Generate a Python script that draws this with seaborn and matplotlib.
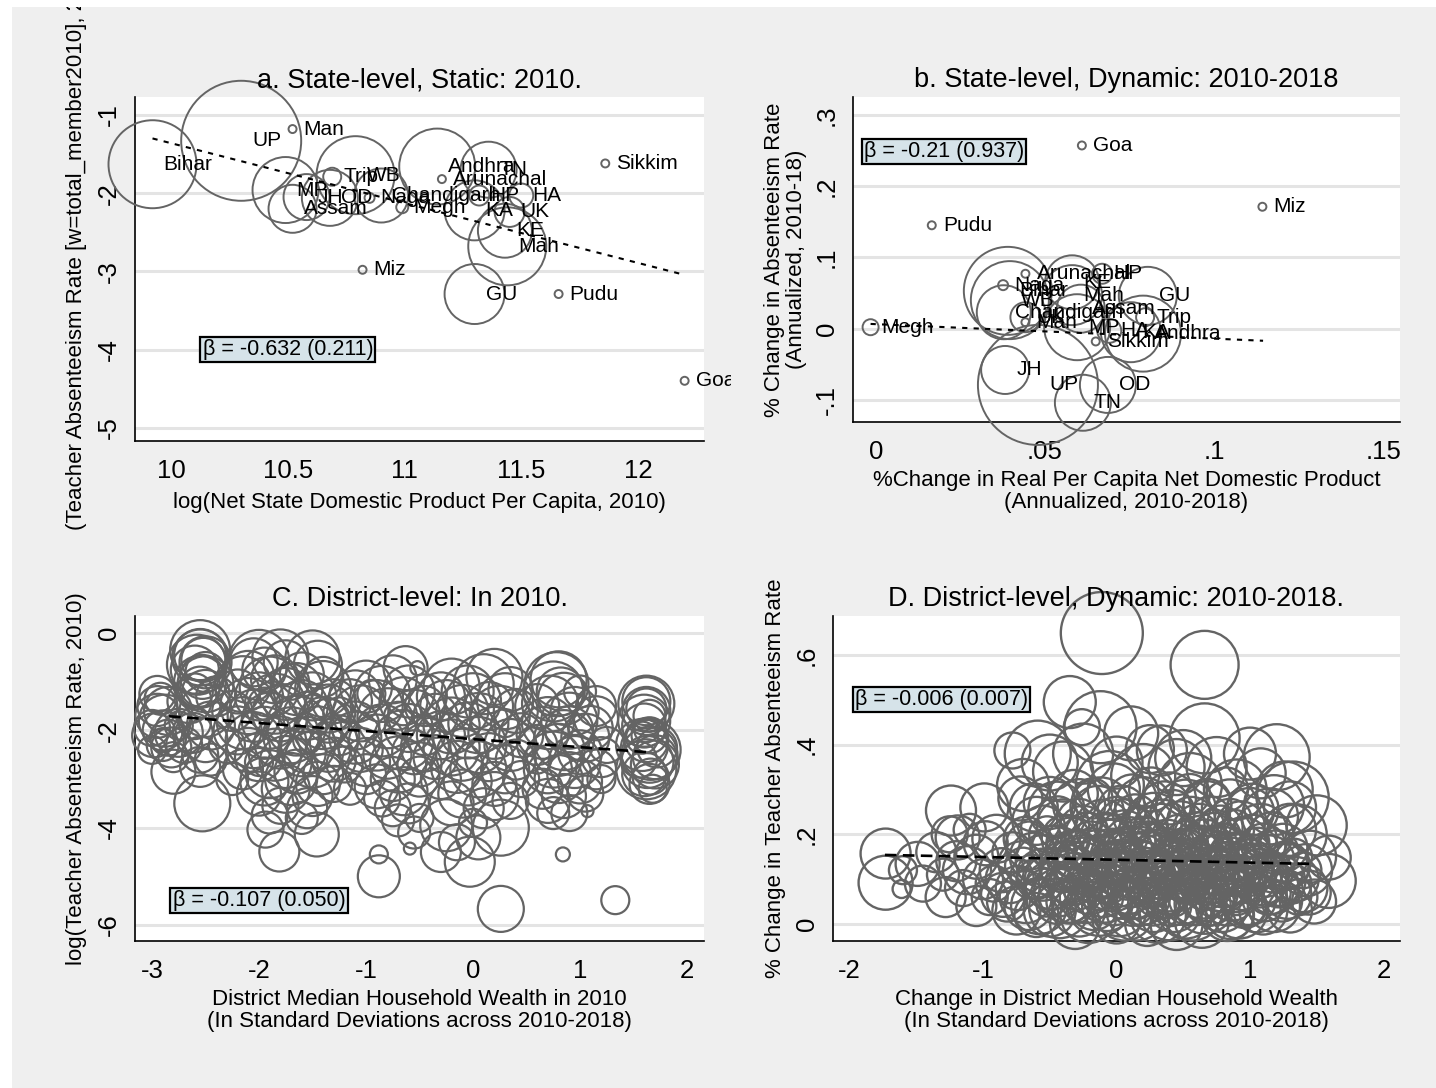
import numpy as np
import pandas as pd
import matplotlib
matplotlib.use("Agg")
import matplotlib.pyplot as plt
import seaborn as sns
from matplotlib.patches import Rectangle
from matplotlib.transforms import Bbox, TransformedBbox

# ---------------- data: panel a (state-level, static 2010) ----------------
a_state = ["Bihar", "UP", "Man", "MP", "Assam", "JH", "OD", "Trip", "WB", "Naga",
           "Chandigarh", "Megh", "Andhra", "Arunachal", "TN", "HP", "KA", "HA",
           "UK", "KE", "Mah", "GU", "Miz", "Pudu", "Sikkim", "Goa"]
a_x = [9.92, 10.30, 10.52, 10.49, 10.52, 10.58, 10.68, 10.69, 10.79, 10.85,
       10.90, 10.99, 11.14, 11.16, 11.36, 11.32, 11.30, 11.50,
       11.45, 11.43, 11.44, 11.30, 10.82, 11.66, 11.86, 12.20]
a_y = [-1.63, -1.33, -1.18, -1.96, -2.20, -2.05, -2.06, -1.79, -1.77, -2.06,
       -2.03, -2.18, -1.66, -1.82, -1.70, -2.03, -2.22, -2.03,
       -2.24, -2.48, -2.68, -3.29, -2.98, -3.29, -1.62, -4.40]
a_size = [44, 60, 4, 33, 24, 23, 28, 9, 39, 5,
          27, 6, 38, 4, 28, 10, 30, 12,
          15, 27, 39, 30, 4, 4, 4, 4]
a_fit_x = [9.92, 12.18]
a_fit_y = [-1.30, -3.03]
a_beta = "β = -0.632 (0.211)"
a_beta_pos = (10.50, -4.0)

# ---------------- data: panel b (state-level, dynamic) ----------------
b_state = ["Goa", "Miz", "Pudu", "Megh", "Arunachal", "Naga", "Bihar", "WB",
           "Chandigarh", "UK", "Man", "JH", "UP", "TN", "OD", "GU", "Mah", "KE",
           "HP", "Assam", "Trip", "MP", "HA", "KA", "Andhra", "Sikkim"]
b_x = [0.0609, 0.1143, 0.0165, -0.0016, 0.0442, 0.0376, 0.0390, 0.0396,
       0.0378, 0.0442, 0.0442, 0.0382, 0.0479, 0.0612, 0.0686, 0.0804, 0.0580, 0.0580,
       0.0669, 0.0606, 0.0796, 0.0595, 0.0690, 0.0754, 0.0790, 0.0650]
b_y = [0.257, 0.171, 0.145, 0.002, 0.077, 0.061, 0.053, 0.040,
       0.023, 0.016, 0.009, -0.058, -0.079, -0.104, -0.079, 0.046, 0.047, 0.065,
       0.077, 0.028, 0.016, 0.002, -0.003, -0.005, -0.007, -0.018]
b_size = [4, 4, 4, 8, 4, 5, 44, 39,
          27, 15, 4, 24, 60, 28, 28, 29, 30, 27,
          10, 24, 9, 33, 12, 30, 38, 4]
b_fit_x = [-0.0016, 0.1145]
b_fit_y = [0.0066, -0.0170]
b_beta = "β = -0.21 (0.937)"
b_beta_pos = (0.0201, 0.249)

# ---------------- data: panel c (district-level, 2010) ----------------
c_x = [-2.55, -2.55, -2.50, -2.60, -2.53, -2.55, -2.50, -2.95, -2.85, -2.95,
       -3.00, -2.90, -2.85, -2.90, -3.00, -2.80, -2.90, -2.75, -2.65, -2.50,
       -2.45, -2.50, -2.55, -2.60, -2.80, -2.53, -2.55, -2.70, -2.40, -2.95,
       -2.05, -1.80, -1.50, -1.95, -2.10, -1.85, -1.60, -1.40, -2.20, -2.00,
       -1.75, -1.50, -1.30, -2.25, -2.05, -1.80, -1.55, -1.35, -2.20, -1.95,
       -1.70, -1.45, -1.25, -2.10, -1.85, -1.60, -1.35, -2.15, -1.90, -1.65,
       -1.40, -2.00, -1.75, -1.50, -1.30, -1.80, -1.94, -1.81, -1.46, -1.60,
       -2.25, -1.20, -2.30, -1.70, -1.95, -1.55, -1.25, -2.00,
       -1.00, -0.75, -0.63, -0.52, -1.15, -0.90, -0.65, -0.45, -1.10, -0.85,
       -0.60, -0.45, -1.05, -0.80, -0.55, -1.00, -0.75, -0.50, -0.85, -0.60,
       -0.70, -0.88, -0.88, -0.59, -0.50, -1.15, -0.95, -0.70,
       -0.30, -0.05, 0.20, 0.35, -0.35, -0.10, 0.15, 0.40, -0.30, -0.05,
       0.20, 0.45, -0.35, -0.10, 0.15, 0.40, -0.30, -0.05, 0.20, 0.45,
       -0.20, 0.10, 0.35, -0.25, 0.26, -0.03, 0.26, 0.00, -0.15, 0.30,
       0.80, 0.75, 0.85, 0.60, 0.95, 1.15, 0.70, 0.90, 1.10, 0.60,
       0.80, 1.00, 1.25, 0.70, 0.90, 1.15, 0.65, 0.85, 1.05, 0.75,
       1.07, 0.84, 1.33, 1.20, 0.60, 1.00,
       1.62, 1.62, 1.65, 1.60, 1.65, 1.58, 1.65, 1.70, 1.60, 1.65,
       1.62, 1.55, 1.72, 1.68,
       -2.55, -2.52, -2.58, -2.50, -2.55, -2.60, -2.88, -2.98, -2.82, -2.92,
       -2.75, -2.62, -2.45, -2.50,
       -2.00, -1.75, -1.45, -2.15, -1.90, -1.65, -1.40, -2.10, -1.85, -1.60,
       -1.35, -2.15, -1.90, -1.65, -1.40, -2.05, -1.80, -1.55, -1.30, -2.00,
       -1.75, -1.50, -1.30, -1.95, -1.70, -1.45, -1.55, -1.90,
       -1.10, -0.85, -0.60, -0.45, -1.05, -0.80, -0.55, -1.10, -0.90, -0.65,
       -0.45, -1.00, -0.70, -0.50, -0.90, -0.65, -0.75, -0.55,
       -0.20, 0.10, 0.30, -0.25, 0.00, 0.25, -0.20, 0.05, 0.35, -0.20,
       0.05, 0.30, -0.15, 0.05, -0.10, 0.20, 0.05, -0.30,
       0.78, 0.82, 0.72, 0.90, 0.65, 0.85, 1.05, 0.75, 0.95, 0.80,
       1.00, 0.70, 0.90, 1.20, 1.15,
       1.62, 1.62, 1.60, 1.62, 1.66, 1.63, 1.62, 1.58, 1.66, 1.70]
c_y = [-0.35, -0.50, -0.60, -0.75, -0.90, -1.10, -1.25, -1.50, -1.60, -1.70,
       -1.95, -2.00, -2.15, -2.30, -2.40, -2.55, -2.20, -1.90, -1.40, -1.60,
       -1.90, -2.20, -2.50, -1.85, -2.85, -3.50, -2.75, -2.30, -1.30, -1.25,
       -0.60, -0.50, -0.50, -0.75, -0.90, -0.95, -0.85, -0.90, -1.20, -1.30,
       -1.25, -1.30, -1.40, -1.60, -1.70, -1.65, -1.70, -1.80, -2.00, -2.05,
       -2.10, -2.00, -2.10, -2.40, -2.50, -2.45, -2.40, -2.80, -2.90, -2.85,
       -2.90, -3.30, -3.20, -3.35, -3.10, -3.55, -4.04, -4.49, -4.14, -3.80,
       -3.00, -2.70, -2.30, -1.00, -1.45, -2.20, -1.65, -2.65,
       -1.10, -0.95, -0.72, -0.72, -1.40, -1.50, -1.40, -1.50, -1.90, -2.00,
       -1.95, -2.10, -2.40, -2.50, -2.45, -2.90, -3.00, -2.95, -3.40, -3.50,
       -3.85, -4.55, -5.00, -4.43, -3.80, -3.20, -1.25, -1.70,
       -1.30, -1.20, -0.90, -1.15, -1.70, -1.60, -1.50, -1.60, -2.10, -2.00,
       -2.05, -2.10, -2.55, -2.50, -2.55, -2.60, -3.00, -3.05, -3.10, -3.00,
       -3.50, -3.60, -3.45, -3.95, -4.00, -4.70, -5.67, -3.90, -4.30, -1.85,
       -0.95, -1.20, -1.35, -1.50, -1.60, -1.50, -1.85, -2.00, -1.95, -2.30,
       -2.40, -2.45, -2.30, -2.80, -2.90, -2.80, -3.20, -3.35, -3.30, -3.70,
       -3.66, -4.55, -5.49, -3.00, -2.60, -1.20,
       -1.40, -1.55, -1.70, -1.90, -2.10, -2.30, -2.50, -2.70, -2.90, -3.10,
       -2.00, -2.60, -2.35, -3.20,
       -0.45, -0.55, -0.65, -0.80, -1.00, -1.20, -1.80, -2.10, -2.35, -1.35,
       -2.05, -2.05, -2.60, -1.05,
       -0.55, -0.60, -0.65, -1.05, -1.10, -1.15, -1.15, -1.50, -1.45, -1.50,
       -1.55, -1.85, -1.80, -1.90, -1.85, -2.20, -2.25, -2.30, -2.25, -2.55,
       -2.65, -2.60, -2.60, -3.05, -3.00, -3.10, -3.60, -3.75,
       -1.30, -1.25, -1.20, -1.30, -1.65, -1.75, -1.70, -2.15, -2.25, -2.20,
       -2.35, -2.65, -2.70, -2.70, -3.15, -3.25, -3.60, -4.10,
       -1.10, -1.05, -1.40, -1.50, -1.40, -1.70, -1.90, -1.85, -2.30, -2.35,
       -2.30, -2.80, -2.75, -2.80, -3.30, -3.35, -4.20, -4.50,
       -1.05, -1.20, -1.45, -1.80, -2.05, -2.20, -2.15, -2.60, -2.65, -3.00,
       -3.05, -3.45, -3.70, -2.55, -1.75,
       -1.45, -1.60, -1.80, -2.20, -2.40, -2.65, -2.80, -2.15, -2.95, -2.55]
c_size = [30, 28, 26, 24, 22, 20, 24, 20, 24, 22,
          18, 20, 18, 16, 14, 15, 12, 14, 22, 26,
          24, 22, 18, 16, 22, 28, 20, 18, 20, 18,
          24, 28, 27, 22, 26, 24, 22, 20, 22, 24,
          26, 24, 22, 20, 26, 28, 24, 22, 24, 26,
          28, 24, 20, 22, 26, 24, 22, 20, 24, 22,
          20, 22, 24, 20, 18, 18, 18, 20, 22, 16,
          16, 18, 18, 18, 16, 14, 16, 14,
          26, 24, 22, 7, 22, 26, 24, 20, 24, 26,
          24, 20, 22, 24, 22, 20, 22, 20, 18, 20,
          16, 9, 21, 6, 14, 16, 14, 14,
          24, 26, 28, 22, 22, 26, 24, 22, 24, 28,
          26, 22, 22, 26, 24, 20, 20, 24, 22, 18,
          22, 20, 18, 26, 28, 25, 23, 14, 18, 14,
          28, 30, 26, 22, 24, 20, 26, 24, 22, 20,
          26, 22, 18, 24, 22, 20, 20, 22, 18, 16,
          6, 7, 14, 14, 14, 16,
          24, 20, 16, 22, 18, 26, 28, 24, 22, 20,
          12, 18, 20, 14,
          26, 22, 30, 20, 26, 18, 26, 22, 20, 16,
          24, 20, 16, 28,
          30, 22, 24, 28, 30, 26, 28, 28, 30, 26,
          24, 26, 28, 30, 26, 28, 26, 28, 24, 24,
          26, 28, 22, 24, 26, 22, 20, 18,
          26, 28, 26, 22, 28, 30, 26, 26, 28, 30,
          24, 24, 28, 22, 22, 24, 18, 16,
          28, 30, 28, 26, 28, 30, 28, 30, 26, 28,
          28, 24, 26, 28, 24, 24, 22, 20,
          32, 24, 28, 28, 26, 30, 24, 28, 26, 24,
          22, 22, 18, 20, 22,
          28, 24, 26, 22, 30, 26, 30, 16, 18, 22]
c_fit_x = [-2.84, 1.64]
c_fit_y = [-1.71, -2.45]
c_beta = "β = -0.107 (0.050)"
c_beta_pos = (-2.0, -5.50)

# ---------------- data: panel d (district-level, dynamic) ----------------
d_x = [-1.73, -1.73, -1.61, -1.49, -1.60, -1.45, -1.35, -1.30, -1.24, -1.19,
       -1.20, -1.15, -1.10, -0.99, -1.05, -1.00, -0.95, -0.90,
       -0.11, 0.66, 0.66, -0.35, 1.20, -0.12, -0.26, -0.78, 0.11, 0.34,
       -0.59, 1.08, 1.32, 0.45, -0.40, 0.20, 0.90, -0.70, 1.50, 1.59,
       1.59, 1.45, 1.40,
       0.23, -0.31, 0.64, 0.00, 0.45, 0.85, -0.60,
       -0.82, -0.66, -0.50, -0.36, -0.21, -0.07, 0.06, 0.18, 0.31, 0.43,
       0.57, 0.70, 0.83, 0.96, 1.10, 1.24, 1.37,
       -0.92, -0.74, -0.60, -0.44, -0.30, -0.14, 0.00, 0.13, 0.26, 0.38,
       0.52, 0.64, 0.77, 0.90, 1.03, 1.17, 1.31, 1.44,
       -0.86, -0.70, -0.55, -0.40, -0.25, -0.10, 0.04, 0.17, 0.30, 0.44,
       0.58, 0.71, 0.85, 0.98, 1.12, 1.27, 1.40,
       -0.78, -0.62, -0.47, -0.33, -0.18, -0.03, 0.10, 0.23, 0.36, 0.50,
       0.63, 0.78, 0.92, 1.06, 1.20, 1.33,
       -0.68, -0.52, -0.38, -0.22, -0.08, 0.06, 0.20, 0.33, 0.47, 0.60,
       0.74, 0.88, 1.02, 1.16, 1.30,
       -0.60, -0.44, -0.28, -0.14, 0.00, 0.14, 0.28, 0.42, 0.56, 0.70,
       0.85, 1.00, 1.15,
       -0.72, -0.50, -0.32, -0.18, -0.02, 0.12, 0.26, 0.40, 0.55, 0.68,
       0.82, 1.26,
       -0.20, -0.05, 0.08, 0.21, 0.34, 0.47, 0.60, 0.73, 0.86, -0.10,
       0.15, 0.40, 0.65, 0.90, 0.00, 0.25, 0.50, 0.75, 1.00, -0.35,
       -0.75, -0.58, -0.43, -0.28, -0.13, 0.02, 0.15, 0.28, 0.40, 0.52,
       0.66, 0.79, 0.92, 1.05, 1.18, 1.30,
       -0.85, -0.68, -0.52, -0.37, -0.23, -0.09, 0.05, 0.19, 0.33, 0.47,
       0.60, 0.73, 0.86, 0.99, 1.14, 1.28,
       -0.80, -0.63, -0.48, -0.33, -0.18, -0.03, 0.11, 0.25, 0.39, 0.53,
       0.67, 0.80, 0.93, 1.08, 1.22, 1.35,
       -0.72, -0.56, -0.40, -0.26, -0.12, 0.03, 0.17, 0.31, 0.45, 0.58,
       0.72, 0.86, 1.00, 1.14, 1.28,
       -0.65, -0.48, -0.33, -0.19, -0.04, 0.10, 0.24, 0.38, 0.52, 0.66,
       0.80, 0.95, 1.10, 1.25,
       -0.55, -0.40, -0.25, -0.10, 0.05, 0.20, 0.34, 0.48, 0.62, 0.78,
       0.93, 1.08,
       -0.62, -0.45, -0.28, -0.12, 0.04, 0.20, 0.36, 0.52, 0.68, 0.85,
       1.02, 1.18,
       -0.50, -0.25, 0.00, 0.25, 0.50, 0.75, 1.00, -0.05, 0.55,
       -1.28, -1.12, -0.98, -1.05, -1.25,
       1.42, 1.35, 1.48, 1.30,
       -0.45, -0.32, -0.17, -0.02, 0.12, 0.27, 0.41, 0.55, 0.69, 0.83,
       0.97, 1.11,
       -0.50, -0.36, -0.20, -0.06, 0.09, 0.24, 0.38, 0.52, 0.66, 0.80,
       0.94, 1.08, 1.22,
       -0.40, -0.26, -0.10, 0.04, 0.19, 0.33, 0.47, 0.61, 0.75, 0.89,
       1.03, 1.17,
       -0.30, -0.15, 0.00, 0.16, 0.30, 0.44, 0.58, 0.72, 0.87, 1.01]
d_y = [0.157, 0.092, 0.078, 0.134, 0.120, 0.090, 0.160, 0.110, 0.253, 0.193,
       0.140, 0.080, 0.210, 0.260, 0.150, 0.100, 0.060, 0.190,
       0.649, 0.578, 0.414, 0.495, 0.372, 0.439, 0.439, 0.387, 0.425, 0.387,
       0.380, 0.336, 0.282, 0.350, 0.340, 0.330, 0.300, 0.310, 0.220, 0.096,
       0.148, 0.150, 0.080,
       0.000, 0.000, 0.007, 0.010, 0.000, 0.020, 0.020,
       0.05, 0.04, 0.03, 0.05, 0.02, 0.04, 0.03, 0.05, 0.02, 0.04,
       0.03, 0.05, 0.02, 0.04, 0.03, 0.05, 0.06,
       0.09, 0.08, 0.10, 0.07, 0.09, 0.08, 0.10, 0.07, 0.09, 0.08,
       0.10, 0.07, 0.09, 0.08, 0.10, 0.08, 0.09, 0.07,
       0.12, 0.13, 0.11, 0.12, 0.13, 0.11, 0.13, 0.12, 0.11, 0.13,
       0.12, 0.11, 0.13, 0.12, 0.11, 0.13, 0.12,
       0.16, 0.15, 0.17, 0.15, 0.16, 0.15, 0.17, 0.15, 0.16, 0.15,
       0.17, 0.16, 0.15, 0.17, 0.16, 0.15,
       0.19, 0.20, 0.19, 0.20, 0.19, 0.20, 0.19, 0.21, 0.19, 0.20,
       0.19, 0.21, 0.19, 0.20, 0.21,
       0.23, 0.24, 0.23, 0.25, 0.23, 0.24, 0.23, 0.25, 0.23, 0.24,
       0.23, 0.25, 0.24,
       0.28, 0.27, 0.29, 0.28, 0.30, 0.28, 0.30, 0.28, 0.29, 0.27,
       0.30, 0.30,
       0.10, 0.14, 0.09, 0.13, 0.10, 0.14, 0.09, 0.13, 0.10, 0.06,
       0.06, 0.06, 0.05, 0.06, 0.17, 0.18, 0.17, 0.18, 0.14, 0.14,
       0.030, 0.040, 0.035, 0.030, 0.045, 0.035, 0.030, 0.040, 0.035, 0.030,
       0.045, 0.040, 0.030, 0.035, 0.040, 0.030,
       0.065, 0.060, 0.070, 0.065, 0.060, 0.070, 0.065, 0.060, 0.070, 0.065,
       0.060, 0.070, 0.065, 0.060, 0.070, 0.065,
       0.100, 0.105, 0.095, 0.100, 0.105, 0.095, 0.100, 0.105, 0.095, 0.100,
       0.105, 0.095, 0.100, 0.105, 0.095, 0.100,
       0.135, 0.140, 0.130, 0.135, 0.140, 0.130, 0.135, 0.140, 0.130, 0.135,
       0.140, 0.130, 0.135, 0.140, 0.130,
       0.175, 0.170, 0.180, 0.175, 0.170, 0.180, 0.175, 0.170, 0.180, 0.175,
       0.170, 0.180, 0.175, 0.170,
       0.215, 0.220, 0.210, 0.215, 0.220, 0.210, 0.215, 0.220, 0.210, 0.215,
       0.220, 0.210,
       0.260, 0.255, 0.265, 0.260, 0.255, 0.265, 0.260, 0.255, 0.265, 0.260,
       0.255, 0.265,
       0.36, 0.38, 0.36, 0.39, 0.37, 0.35, 0.38, 0.31, 0.31,
       0.06, 0.12, 0.18, 0.04, 0.20,
       0.12, 0.20, 0.05, 0.26,
       0.045, 0.050, 0.040, 0.055, 0.045, 0.050, 0.040, 0.055, 0.045, 0.050,
       0.040, 0.055,
       0.085, 0.090, 0.080, 0.095, 0.085, 0.090, 0.080, 0.095, 0.085, 0.090,
       0.080, 0.095, 0.085,
       0.120, 0.125, 0.115, 0.120, 0.125, 0.115, 0.120, 0.125, 0.115, 0.120,
       0.125, 0.115,
       0.155, 0.160, 0.150, 0.155, 0.160, 0.150, 0.155, 0.160, 0.150, 0.155]
d_size = [25, 27, 9, 22, 14, 18, 20, 16, 25, 22,
          20, 18, 16, 24, 22, 20, 18, 24,
          41, 34, 35, 26, 33, 36, 18, 18, 27, 25,
          33, 25, 36, 28, 30, 32, 30, 26, 30, 27,
          22, 26, 24,
          22, 25, 27, 24, 26, 24, 22,
          20, 24, 26, 22, 28, 25, 30, 24, 28, 26,
          30, 24, 26, 22, 24, 20, 18,
          18, 22, 20, 24, 26, 22, 28, 26, 24, 30,
          22, 26, 28, 24, 22, 26, 20, 22,
          22, 18, 26, 22, 28, 24, 26, 30, 24, 26,
          22, 28, 24, 26, 22, 24, 18,
          20, 24, 22, 26, 24, 28, 22, 26, 24, 28,
          22, 26, 24, 20, 22, 18,
          22, 18, 24, 22, 26, 24, 22, 26, 24, 22,
          26, 20, 24, 22, 26,
          24, 20, 22, 26, 24, 22, 28, 22, 24, 20,
          22, 24, 28,
          22, 26, 24, 20, 26, 24, 22, 26, 20, 24,
          22, 28,
          18, 20, 16, 18, 20, 16, 18, 20, 16, 20,
          22, 18, 20, 18, 18, 20, 18, 16, 18, 16,
          24, 28, 30, 26, 32, 28, 30, 26, 32, 28,
          30, 26, 28, 24, 26, 22,
          22, 26, 24, 28, 26, 30, 24, 28, 26, 30,
          28, 24, 26, 28, 22, 24,
          24, 22, 28, 26, 24, 30, 28, 26, 30, 24,
          28, 26, 24, 28, 26, 22,
          22, 26, 24, 28, 26, 24, 30, 26, 28, 24,
          26, 28, 24, 26, 22,
          24, 22, 26, 24, 28, 26, 24, 28, 22, 26,
          24, 26, 22, 24,
          22, 26, 24, 28, 26, 24, 28, 24, 26, 22,
          24, 26,
          24, 28, 26, 30, 24, 28, 26, 30, 24, 28,
          26, 30,
          28, 30, 26, 24, 28, 30, 26, 34, 32,
          20, 24, 22, 20, 18,
          26, 30, 22, 26,
          20, 22, 24, 26, 22, 24, 20, 26, 22, 24,
          20, 22,
          24, 20, 26, 22, 28, 24, 26, 22, 24, 28,
          22, 26, 20,
          22, 26, 24, 20, 26, 22, 28, 24, 22, 26,
          24, 20,
          24, 22, 26, 28, 22, 24, 26, 22, 24, 20]
d_fit_x = [-1.735, 1.47]
d_fit_y = [0.154, 0.134]
d_beta = "β = -0.006 (0.007)"
d_beta_pos = (-1.31, 0.50)

# ---------------- figure setup ----------------
W, H, DPI = 1436, 1088, 100
sns.set_style("white")
plt.rcParams["font.family"] = ["Liberation Sans", "DejaVu Sans"]
plt.rcParams.update({"text.color": "black", "axes.labelcolor": "black",
                     "xtick.color": "black", "ytick.color": "black"})

CIRC = "#646464"
GRID = "#e4e4e4"
BOXC = "#d6e3e9"

fig = plt.figure(figsize=(W / DPI, H / DPI), dpi=DPI, facecolor="white")
fig.patches.append(Rectangle((12 / W, 0), (W - 12) / W, (H - 7) / H,
                             transform=fig.transFigure, facecolor="#efefef",
                             edgecolor="none", zorder=-10))


def px_axes(l, t, r, b):
    return fig.add_axes([l / W, 1 - b / H, (r - l) / W, (b - t) / H])


def region(l, t, r, b):
    return TransformedBbox(Bbox.from_extents(l / W, 1 - b / H, r / W, 1 - t / H),
                           fig.transFigure)


def area(r):
    return [(2 * v * 72 / DPI) ** 2 for v in r]


def style(ax, xlim, ylim, xticks, xlabels, yticks, ylabels):
    ax.set_facecolor("white")
    ax.set_xlim(xlim)
    ax.set_ylim(ylim)
    ax.set_xticks(xticks)
    ax.set_xticklabels(xlabels)
    ax.set_yticks(yticks)
    ax.set_yticklabels(ylabels, rotation=90, va="center")
    for s in ["top", "right"]:
        ax.spines[s].set_visible(False)
    for s in ["left", "bottom"]:
        ax.spines[s].set_color("black")
        ax.spines[s].set_linewidth(1.2)
    ax.tick_params(axis="both", direction="out", length=7, width=1.1,
                   colors="black", labelsize=18.5)
    ax.tick_params(axis="x", pad=6)
    ax.tick_params(axis="y", pad=3)
    ax.grid(False)
    ax.yaxis.grid(True, color=GRID, linewidth=2.2)
    ax.set_axisbelow(True)


def bubbles(ax, x, y, r, clip, lw=1.4):
    sns.scatterplot(x=x, y=y, s=area(r), facecolors="none", edgecolor=CIRC,
                    linewidth=lw, ax=ax, legend=False, zorder=3)
    coll = ax.collections[-1]
    coll.set_clip_box(clip)
    coll.set_clip_path(None)


def labels(ax, names, x, y, clip):
    for n, xi, yi in zip(names, x, y):
        t = ax.annotate(n, (xi, yi), xytext=(8, 0), textcoords="offset points",
                        ha="left", va="center", fontsize=15, color="black",
                        zorder=4, annotation_clip=False)
        t.set_clip_box(clip)
        t.set_clip_on(True)


def beta_box(ax, text, pos):
    ax.text(pos[0], pos[1], text, ha="center", va="center", fontsize=15.5,
            zorder=6,
            bbox=dict(boxstyle="square,pad=0.1", facecolor=BOXC,
                      edgecolor="black", linewidth=1.6))


def fitline(ax, x, y, dotted=True):
    if dotted:
        sns.lineplot(x=x, y=y, ax=ax, color="black", linewidth=1.5,
                     linestyle=(0, (2.5, 3.0)), zorder=5, legend=False)
    else:
        sns.lineplot(x=x, y=y, ax=ax, color="black", linewidth=1.9,
                     linestyle=(0, (4.4, 2.4)), zorder=5, legend=False)


reg_tl = region(12, 7, 731, 545)
reg_tr = region(731, 7, W, 545)
reg_bl = region(12, 545, 731, H)
reg_br = region(731, 545, W, H)

# ---------------- panel a ----------------
axa = px_axes(135, 97, 704, 441)
style(axa, (9.845, 12.283), (-5.17, -0.77),
      [10, 10.5, 11, 11.5, 12], ["10", "10.5", "11", "11.5", "12"],
      [-5, -4, -3, -2, -1], ["-5", "-4", "-3", "-2", "-1"])
bubbles(axa, a_x, a_y, a_size, reg_tl)
labels(axa, a_state, a_x, a_y, reg_tl)
fitline(axa, a_fit_x, a_fit_y, dotted=True)
beta_box(axa, a_beta, a_beta_pos)
axa.set_title("a. State-level, Static: 2010.", fontsize=19.5, pad=7)
axa.set_xlabel("log(Net State Domestic Product Per Capita, 2010)", fontsize=16)
axa.xaxis.label.set_va("center")
axa.xaxis.set_label_coords(0.5, -0.18)
axa.set_ylabel("(Teacher Absenteeism Rate [w=total_member2010], 2010)", fontsize=16)
axa.yaxis.label.set_va("center")
axa.yaxis.set_label_coords(-0.102, 0.58)
axa.yaxis.label.set_clip_box(region(0, 7, 200, H))
axa.yaxis.label.set_clip_on(True)

# ---------------- panel b ----------------
axb = px_axes(853, 97, 1400, 422)
style(axb, (-0.0068, 0.155), (-0.131, 0.325),
      [0, 0.05, 0.1, 0.15], ["0", ".05", ".1", ".15"],
      [-0.1, 0, 0.1, 0.2, 0.3], ["-.1", "0", ".1", ".2", ".3"])
bubbles(axb, b_x, b_y, b_size, reg_tr)
labels(axb, b_state, b_x, b_y, reg_tr)
fitline(axb, b_fit_x, b_fit_y, dotted=True)
beta_box(axb, b_beta, b_beta_pos)
axb.set_title("b. State-level, Dynamic: 2010-2018", fontsize=19.5, pad=7)
axb.set_xlabel("%Change in Real Per Capita Net Domestic Product\n(Annualized, 2010-2018)",
               fontsize=16, linespacing=1.05)
axb.xaxis.label.set_va("center")
axb.xaxis.set_label_coords(0.5, -0.214)
axb.set_ylabel("% Change in Absenteeism Rate\n(Annualized, 2010-18)", fontsize=16,
               linespacing=1.05)
axb.yaxis.label.set_va("center")
axb.yaxis.set_label_coords(-0.124, 0.5)

# ---------------- panel c ----------------
axc = px_axes(135, 616, 704, 941)
style(axc, (-3.159, 2.159), (-6.33, 0.352),
      [-3, -2, -1, 0, 1, 2], ["-3", "-2", "-1", "0", "1", "2"],
      [-6, -4, -2, 0], ["-6", "-4", "-2", "0"])
bubbles(axc, c_x, c_y, c_size, reg_bl, lw=1.6)
fitline(axc, c_fit_x, c_fit_y, dotted=False)
beta_box(axc, c_beta, c_beta_pos)
axc.set_title("C. District-level: In 2010.", fontsize=19.5, pad=7)
axc.set_xlabel("District Median Household Wealth in 2010\n(In Standard Deviations across 2010-2018)",
               fontsize=16, linespacing=1.05)
axc.xaxis.label.set_va("center")
axc.xaxis.set_label_coords(0.5, -0.215)
axc.set_ylabel("log(Teacher Absenteeism Rate, 2010)", fontsize=16)
axc.yaxis.label.set_va("center")
axc.yaxis.set_label_coords(-0.102, 0.5)

# ---------------- panel d ----------------
axd = px_axes(833, 616, 1400, 941)
style(axd, (-2.124, 2.124), (-0.038, 0.687),
      [-2, -1, 0, 1, 2], ["-2", "-1", "0", "1", "2"],
      [0, 0.2, 0.4, 0.6], ["0", ".2", ".4", ".6"])
bubbles(axd, d_x, d_y, d_size, reg_br, lw=1.7)
fitline(axd, d_fit_x, d_fit_y, dotted=False)
beta_box(axd, d_beta, d_beta_pos)
axd.set_title("D. District-level, Dynamic: 2010-2018.", fontsize=19.5, pad=7)
axd.set_xlabel("Change in District Median Household Wealth\n(In Standard Deviations across 2010-2018)",
               fontsize=16, linespacing=1.05)
axd.xaxis.label.set_va("center")
axd.xaxis.set_label_coords(0.5, -0.215)
axd.set_ylabel("% Change in Teacher Absenteeism Rate", fontsize=16)
axd.yaxis.label.set_va("center")
axd.yaxis.set_label_coords(-0.102, 0.5)

fig.savefig("out.png", dpi=DPI, facecolor=fig.get_facecolor())
